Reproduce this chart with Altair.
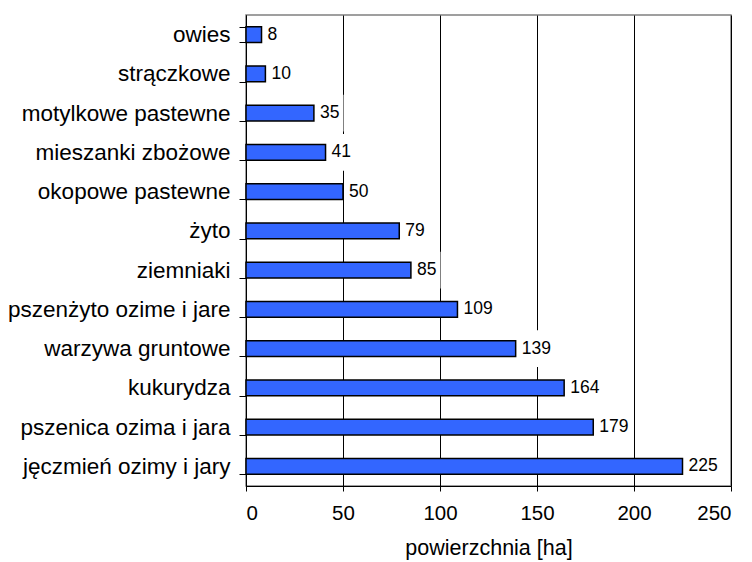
import altair as alt
import pandas as pd

categories = ["owies", "strączkowe", "motylkowe pastewne", "mieszanki zbożowe",
              "okopowe pastewne", "żyto", "ziemniaki", "pszenżyto ozime i jare",
              "warzywa gruntowe ", "kukurydza", "pszenica ozima i jara",
              "jęczmień ozimy i jary"]
values = [8, 10, 35, 41, 50, 79, 85, 109, 139, 164, 179, 225]
x_ticks = [0, 50, 100, 150, 200, 250]

df = pd.DataFrame({"crop": categories, "value": values})

FONT = "Liberation Sans"
X_TITLE = "powierzchnia [ha]"
x_scale = alt.Scale(domain=[0, 250], nice=False)

y_enc = alt.Y("crop:N", sort=categories, title=None,
              scale=alt.Scale(paddingInner=0.6, paddingOuter=0.3),
              axis=alt.Axis(tickBand="extent", tickSize=7, tickColor="black",
                            domainColor="black", labelFontSize=22.5, labelFont=FONT,
                            labelColor="black", labelPadding=9, labelLimit=400,
                            grid=False))
x_enc = alt.X("value:Q", title=X_TITLE, scale=x_scale,
              axis=alt.Axis(values=x_ticks, tickSize=5, tickColor="black",
                            domainColor="black", grid=True, gridColor="black",
                            gridOpacity=1, gridWidth=1, labelFontSize=20.5,
                            labelFont=FONT, labelColor="black", labelPadding=12,
                            titleFontSize=21.5, titleFont=FONT, titleColor="black",
                            titleFontWeight="normal", titlePadding=14))

bars = alt.Chart(df).mark_bar(color="#3366FF", stroke="black", strokeWidth=1.5).encode(
    x=x_enc, y=y_enc)

# white boxes behind the value labels (as in the spreadsheet original)
label_bg = alt.Chart(df).transform_calculate(
    bg_x="datum.value + 1",
    bg_x2="datum.value + (10 + length(toString(datum.value)) * 9.8) / 1.94",
).mark_bar(color="white").encode(
    x=alt.X("bg_x:Q", title=X_TITLE, scale=x_scale),
    x2="bg_x2:Q",
    y=alt.Y("crop:N", sort=categories, axis=None,
            scale=alt.Scale(paddingInner=0.06, paddingOuter=0.03)))

labels = alt.Chart(df).mark_text(align="left", baseline="middle", dx=6, fontSize=17.5,
                                 font=FONT, color="black").encode(
    x=alt.X("value:Q", title=X_TITLE, scale=x_scale),
    y=alt.Y("crop:N", sort=categories, axis=None,
            scale=alt.Scale(paddingInner=0.6, paddingOuter=0.3)),
    text="value:Q")

chart = alt.layer(bars, label_bg, labels).resolve_scale(y="independent").properties(
    width=485, height=471,
    autosize=alt.AutoSizeParams(type="none"),
    padding={"left": 246, "top": 15, "right": 21, "bottom": 76},
    background="white",
).configure_view(stroke="#808080", strokeWidth=1.5)

chart.save("out.html", embed_options={"renderer": "svg", "actions": False})
